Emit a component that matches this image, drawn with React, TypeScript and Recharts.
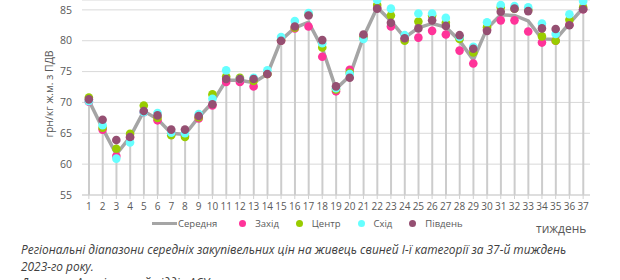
import React from "react";
import { Bar, CartesianGrid, ComposedChart, Line, XAxis, YAxis } from "recharts";

const weeks = [
  "1", "2", "3", "4", "5", "6", "7", "8", "9", "10", "11", "12", "13", "14", "15", "16", "17", "18", "19",
  "20", "21", "22", "23", "24", "25", "26", "27", "28", "29", "30", "31", "32", "33", "34", "35", "36", "37",
];

const average = [
  70.3, 65.8, 61.6, 64.4, 68.6, 67.3, 65.0, 64.8, 67.6, 70.0, 73.6, 73.6, 73.2, 74.6, 80.1, 82.1, 83.0, 78.8, 72.2,
  74.3, 80.6, 85.4, 83.2, 80.5, 82.1, 82.8, 82.2, 80.0, 76.9, 82.0, 84.2, 84.1, 83.2, 80.3, 80.2, 82.8, 85.3,
];

const west = [
  70.1, 65.6, 61.3, 64.3, 68.4, 67.1, 65.0, 64.6, 67.4, 69.5, 73.3, 73.3, 72.6, 74.6, 80.0, 82.0, 82.3, 77.4, 71.8,
  75.3, 80.7, 85.3, 82.3, 80.3, 80.5, 81.6, 81.0, 78.4, 76.3, 81.8, 83.3, 83.3, 81.5, 79.7, 80.0, 82.6, 85.1,
];

const center = [
  70.8, 65.9, 62.5, 64.9, 69.5, 67.5, 64.7, 64.4, 67.6, 71.3, 74.2, 74.0, 73.5, 74.6, 80.1, 82.1, 84.3, 78.9, 72.1,
  74.8, 80.5, 85.8, 84.1, 80.0, 83.1, 84.1, 82.9, 80.3, 78.1, 82.2, 85.4, 85.2, 85.0, 80.7, 80.0, 83.4, 85.4,
];

const east = [
  70.2, 66.3, 60.9, 63.5, 68.4, 68.3, 65.1, 65.0, 68.1, 70.6, 75.2, 73.8, 74.0, 75.2, 80.6, 83.2, 84.5, 79.6, 72.3,
  74.6, 80.3, 86.6, 85.2, 80.9, 84.4, 84.4, 83.7, 80.6, 79.0, 83.0, 85.8, 85.6, 85.4, 82.8, 81.1, 84.3, 86.4,
];

const south = [
  70.5, 67.2, 63.9, 64.4, 68.6, 67.9, 65.6, 65.6, 67.8, 69.7, 73.8, 73.8, 73.8, 74.6, 80.0, 82.3, 84.1, 80.1, 72.6,
  74.0, 81.0, 85.2, 82.9, 80.4, 82.0, 83.3, 82.4, 80.9, 78.7, 81.6, 84.7, 85.2, 84.8, 82.0, 81.9, 82.5, 85.1,
];

const yTicks = [55, 60, 65, 70, 75, 80, 85];

const regions = [
  { key: "west", name: "Захід", color: "#ff3399", values: west },
  { key: "center", name: "Центр", color: "#99cc00", values: center },
  { key: "east", name: "Схід", color: "#66ffff", values: east },
  { key: "south", name: "Південь", color: "#954f72", values: south },
];

const data = weeks.map((week, i) => {
  const row: Record<string, string | number> = { week, avg: average[i] };
  regions.forEach((r) => {
    row[r.key] = r.values[i];
  });
  return row;
});

const FONT = "'Open Sans', sans-serif";
const GRAY_TEXT = "#595959";

export default function App() {
  return (
    <div style={{ position: "absolute", left: 0, top: 0, width: 620, height: 280, overflow: "hidden", background: "#fff", fontFamily: FONT }}>
      <ComposedChart width={620} height={215} data={data} margin={{ top: 0, right: 30, bottom: 0, left: 0 }}>
        <CartesianGrid vertical={false} stroke="#d9d9d9" />
        <XAxis
          dataKey="week"
          interval={0}
          height={20}
          tickSize={4}
          tickMargin={4}
          stroke="#d0d0d0"
          tick={{ fill: GRAY_TEXT, fontSize: 10, fontFamily: FONT }}
        />
        <YAxis
          width={82}
          domain={[55, 86.6]}
          ticks={yTicks}
          axisLine={false}
          tickLine={false}
          tickSize={0}
          tickMargin={10}
          tick={{ fill: GRAY_TEXT, fontSize: 10.5, fontFamily: FONT }}
        />
        <Bar dataKey="avg" barSize={2} fill="#cccccc" isAnimationActive={false} />
        <Line dataKey="avg" stroke="#a5a5a5" strokeWidth={3.5} dot={false} isAnimationActive={false} />
        {regions.map((r) => (
          <Line
            key={r.key}
            dataKey={r.key}
            stroke="none"
            dot={{ r: 4.3, fill: r.color, stroke: "none" }}
            activeDot={false}
            isAnimationActive={false}
          />
        ))}
      </ComposedChart>

      <div
        style={{
          position: "absolute",
          left: 49,
          top: 94,
          transform: "translate(-50%, -50%) rotate(-90deg)",
          whiteSpace: "nowrap",
          fontSize: 10.5,
          color: GRAY_TEXT,
        }}
      >
        грн/кг ж.м. з ПДВ
      </div>

      <div style={{ position: "absolute", left: 152, top: 215, height: 16, display: "flex", alignItems: "center", fontSize: 9.5, color: GRAY_TEXT }}>
        <span style={{ display: "inline-block", width: 25, height: 3, background: "#a5a5a5", marginRight: 1 }} />
        <span style={{ marginRight: 22 }}>Середня</span>
        {regions.map((r) => (
          <React.Fragment key={r.key}>
            <span style={{ display: "inline-block", width: 7, height: 7, borderRadius: "50%", background: r.color, marginRight: 9 }} />
            <span style={{ marginRight: 17 }}>{r.name}</span>
          </React.Fragment>
        ))}
      </div>

      <div style={{ position: "absolute", left: 536, top: 220, fontSize: 12, color: GRAY_TEXT }}>тиждень</div>

      <div
        style={{
          position: "absolute",
          left: 21,
          top: 241,
          width: 595,
          fontSize: 11.9,
          lineHeight: "16.5px",
          fontStyle: "italic",
          color: "#404040",
          whiteSpace: "nowrap",
        }}
      >
        Регіональні діапазони середніх закупівельних цін на живець свиней І-ї категорії за 37-й тиждень
        <br />
        2023-го року.
        <br />
        Джерело: Аналітичний відділ АСУ
      </div>
    </div>
  );
}
